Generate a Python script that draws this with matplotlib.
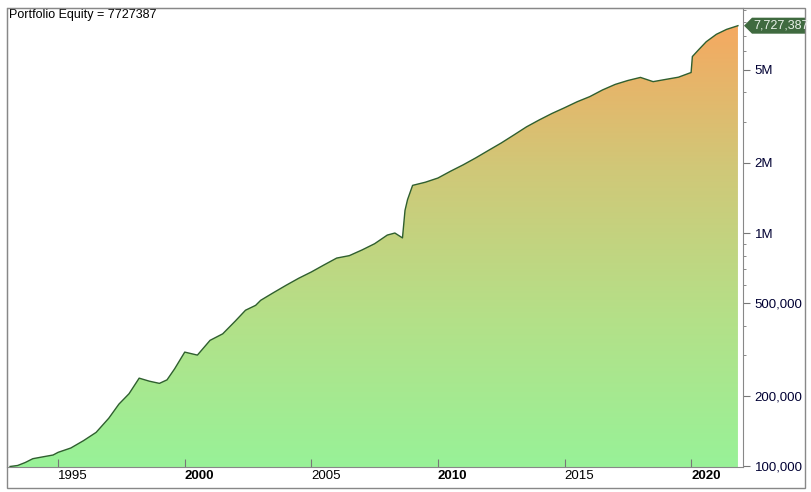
import numpy as np
import matplotlib.pyplot as plt
from matplotlib.colors import LinearSegmentedColormap
from matplotlib.patches import Rectangle, Polygon
from matplotlib.ticker import FixedLocator, NullFormatter

plt.rcParams['font.family'] = ['Liberation Sans', 'DejaVu Sans']

# equity curve (year, value)
years = [1993.1, 1993.4, 1993.7, 1994.0, 1994.4, 1994.8, 1995.0, 1995.5, 1996.0,
         1996.5, 1997.0, 1997.4, 1997.8, 1998.2, 1998.6, 1999.0, 1999.3, 1999.6,
         2000.0, 2000.5, 2001.0, 2001.5, 2002.0, 2002.4, 2002.8, 2003.0, 2003.5,
         2004.0, 2004.5, 2005.0, 2005.5, 2006.0, 2006.5, 2007.0, 2007.5, 2008.0,
         2008.3, 2008.6, 2008.7, 2008.8, 2009.0, 2009.5, 2010.0, 2010.5, 2011.0,
         2011.5, 2012.0, 2012.5, 2013.0, 2013.5, 2014.0, 2014.5, 2015.0, 2015.5,
         2016.0, 2016.5, 2017.0, 2017.5, 2018.0, 2018.5, 2019.0, 2019.5, 2020.0,
         2020.05, 2020.3, 2020.6, 2021.0, 2021.4, 2021.85]
values = [100000, 101000, 104000, 108000, 110000, 112000, 115000, 120000, 129000,
          140000, 161000, 185000, 205000, 239000, 232000, 227000, 235000, 262000,
          309000, 300000, 347000, 370000, 420000, 467000, 490000, 515000, 555000,
          597000, 640000, 681000, 730000, 781000, 800000, 846000, 900000, 980000,
          1000000, 953000, 1250000, 1390000, 1600000, 1650000, 1720000, 1840000, 1960000,
          2100000, 2260000, 2430000, 2630000, 2850000, 3050000, 3250000, 3440000, 3650000,
          3840000, 4100000, 4330000, 4500000, 4640000, 4450000, 4550000, 4650000, 4870000,
          5700000, 6100000, 6600000, 7100000, 7450000, 7727387]
ytick_vals = [100000, 200000, 500000, 1000000, 2000000, 5000000]
ytick_labels = ['100,000', '200,000', '500,000', '1M', '2M', '5M']
xtick_vals = [1995, 2000, 2005, 2010, 2015, 2020]

fig = plt.figure(figsize=(8.12, 4.92), dpi=100)
ax = fig.add_axes([7/812, 25/492, 736/812, 459/492])
ax.set_yscale('log')

# gradient fill under the curve (vertical, in screen space)
cmap = LinearSegmentedColormap.from_list('g', ['#98f298', '#b4e088', '#d0c878', '#f6a860'])
grad = np.linspace(0, 1, 256).reshape(-1, 1)
img = ax.imshow(grad, cmap=cmap, aspect='auto', origin='lower',
                extent=[0, 1, 0, 0.97], transform=ax.transAxes, zorder=1)
poly = Polygon(list(zip(years, values)) + [(years[-1], 99500), (years[0], 99500)],
               closed=True, transform=ax.transData, facecolor='none', edgecolor='none')
ax.add_patch(poly)
img.set_clip_path(poly)
ax.plot(years, values, color='#2f5f2f', lw=1, zorder=3)
ax.set_xlim(1992.98, 2022.05)
ax.set_ylim(99500, 9.2e6)

ax.yaxis.tick_right()
ax.yaxis.set_major_locator(FixedLocator(ytick_vals))
ax.set_yticklabels(ytick_labels)
ax.yaxis.set_minor_formatter(NullFormatter())
ax.tick_params(axis='y', which='major', labelsize=9.5, length=5, colors='#777777', labelcolor='#000033')
ax.tick_params(axis='y', which='minor', length=2, colors='#777777')
ax.set_xticks(xtick_vals)
ax.set_xticklabels([str(x) for x in xtick_vals])
ax.tick_params(axis='x', labelsize=9.5, length=6, direction='in', colors='#777777', labelcolor='black', pad=2)
for lab in ax.get_xticklabels():
    lab.set_horizontalalignment('left')
    if lab.get_text() in ('2000', '2010', '2020'):
        lab.set_fontweight('bold')
for s in ax.spines.values():
    s.set_color('#888888')

ax.text(0.003, 0.997, 'Portfolio Equity = 7727387', transform=ax.transAxes,
        ha='left', va='top', fontsize=9, zorder=5)

# value tag at right axis
last = values[-1]
ty = ax.transData.transform((2022.05, last))[1] / 492
tag = Polygon([(744/812, ty), (752/812, ty + 8/492), (805/812, ty + 8/492),
               (805/812, ty - 8/492), (752/812, ty - 8/492)], closed=True,
              transform=fig.transFigure, facecolor='#3f6a3f', edgecolor='none')
fig.patches.append(tag)
fig.text(753/812, ty, f'{last:,}', color='#e8f0e8', fontsize=9, va='center', ha='left')

fig.patches.append(Rectangle((7/812, 4/492), 798/812, 480/492, transform=fig.transFigure,
                             fill=False, edgecolor='#888888', lw=1))
fig.savefig('out.png', dpi=100)
